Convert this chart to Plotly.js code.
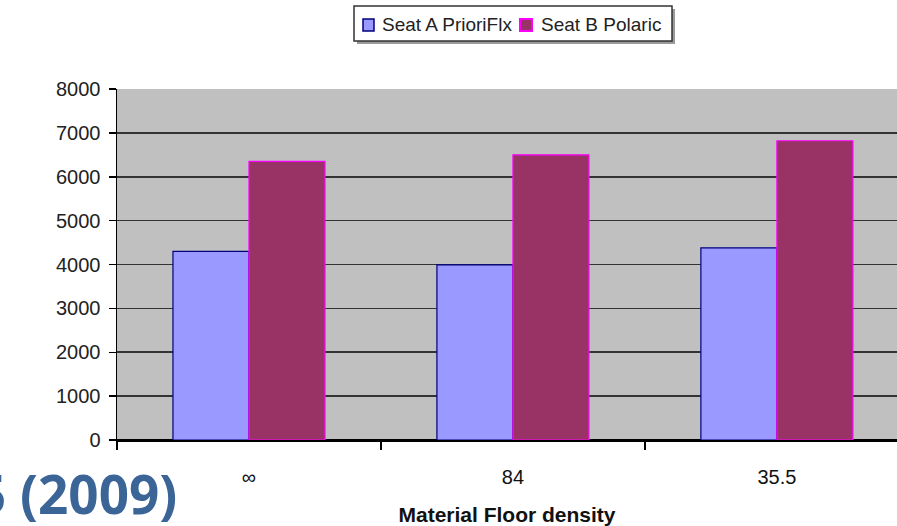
<!DOCTYPE html>
<html>
<head>
<meta charset="utf-8">
<script src="https://cdn.plot.ly/plotly-3.0.1.min.js"></script>
<style>
  html, body { margin: 0; padding: 0; background: #ffffff; }
  #chart { width: 897px; height: 526px; }
</style>
</head>
<body>
<div id="chart"></div>
<script>
// Data
var categories = ["∞", "84", "35.5"];
var seatA_PrioriFlx = [4300, 3990, 4380];
var seatB_Polaric = [6350, 6500, 6820];
var seriesNames = ["Seat A PrioriFlx", "Seat B Polaric"];
var seriesFill = ["#9999FF", "#993366"];
var seriesEdge = ["#000080", "#FF00FF"];
var yTicks = [0, 1000, 2000, 3000, 4000, 5000, 6000, 7000, 8000];
var xTitle = "Material Floor density";
var overlayText = "5 (2009)";

// plot-area geometry helpers (pixels -> paper fractions)
var W = 897, H = 526, ML = 117, MR = 0, MT = 89, MB = 86;
var PW = W - ML - MR, PH = H - MT - MB;
function px(x) { return (x - ML) / PW; }
function py(y) { return (H - MB - y) / PH; }

var traces = [
  {
    type: "bar",
    name: seriesNames[0],
    x: categories,
    y: seatA_PrioriFlx,
    marker: { color: seriesFill[0], line: { color: seriesEdge[0], width: 1.2 } },
    hoverinfo: "x+y+name"
  },
  {
    type: "bar",
    name: seriesNames[1],
    x: categories,
    y: seatB_Polaric,
    marker: { color: seriesFill[1], line: { color: seriesEdge[1], width: 1.2 } },
    hoverinfo: "x+y+name"
  }
];

// legend drawn as a boxed key (matches the reference's compact spacing)
var legendShapes = [
  { type: "rect", xref: "paper", yref: "paper", x0: px(357), x1: px(675), y0: py(44), y1: py(9),
    fillcolor: "#9a9a9a", line: { width: 0 }, layer: "above" },
  { type: "rect", xref: "paper", yref: "paper", x0: px(354), x1: px(672), y0: py(41), y1: py(6),
    fillcolor: "#ffffff", line: { color: "#333333", width: 1.5 }, layer: "above" },
  { type: "rect", xref: "paper", yref: "paper", x0: px(363), x1: px(374), y0: py(31), y1: py(19),
    fillcolor: seriesFill[0], line: { color: seriesEdge[0], width: 1.5 }, layer: "above" },
  { type: "rect", xref: "paper", yref: "paper", x0: px(520), x1: px(532), y0: py(31), y1: py(19),
    fillcolor: seriesFill[1], line: { color: seriesEdge[1], width: 2 }, layer: "above" }
];
var legendTexts = [
  { text: seriesNames[0], xref: "paper", yref: "paper", x: px(380), y: py(25), xanchor: "left", yanchor: "middle",
    showarrow: false, font: { size: 19, color: "#222222", family: "Liberation Sans, Arial, sans-serif" } },
  { text: seriesNames[1], xref: "paper", yref: "paper", x: px(539), y: py(25), xanchor: "left", yanchor: "middle",
    showarrow: false, font: { size: 19, color: "#222222", family: "Liberation Sans, Arial, sans-serif" } }
];

var layout = {
  width: W,
  height: H,
  margin: { l: ML, r: MR, t: MT, b: MB, pad: 0 },
  paper_bgcolor: "#ffffff",
  plot_bgcolor: "#C0C0C0",
  barmode: "group",
  bargap: 0.424,
  bargroupgap: 0,
  font: { family: "Liberation Sans, Arial, sans-serif", color: "#111111" },
  showlegend: false,
  xaxis: {
    type: "category",
    range: [-0.5, 2.455],
    tickson: "boundaries",
    ticks: "outside",
    ticklen: 8,
    tickwidth: 1.5,
    tickcolor: "#000000",
    showline: true,
    linecolor: "#000000",
    linewidth: 1.5,
    showgrid: false,
    zeroline: false,
    tickfont: { size: 20, color: "#111111" },
    ticklabelstandoff: 18,
    title: {
      text: xTitle,
      font: { size: 21, color: "#111111", family: "Liberation Sans, Arial, sans-serif", weight: "bold" },
      standoff: 22
    },
    fixedrange: true
  },
  yaxis: {
    range: [0, 8000],
    tickvals: yTicks,
    ticktext: yTicks.map(String),
    ticks: "outside",
    ticklen: 7,
    tickwidth: 1.5,
    tickcolor: "#000000",
    showline: true,
    linecolor: "#000000",
    linewidth: 1.5,
    showgrid: true,
    gridcolor: "#333333",
    gridwidth: 1.6,
    zeroline: true,
    zerolinecolor: "#000000",
    zerolinewidth: 1.5,
    tickfont: { size: 20, color: "#222222" },
    ticklabelstandoff: 4,
    fixedrange: true
  },
  shapes: legendShapes,
  annotations: legendTexts.concat([
    {
      text: overlayText,
      xref: "paper", yref: "paper",
      x: px(179),
      xanchor: "right",
      y: py(494),
      yanchor: "middle",
      showarrow: false,
      font: { family: "Open Sans, Noto Sans, sans-serif", size: 53, color: "#3B6497", weight: "bold" }
    }
  ])
};

Plotly.newPlot("chart", traces, layout, { displayModeBar: false, staticPlot: true });
</script>
</body>
</html>
